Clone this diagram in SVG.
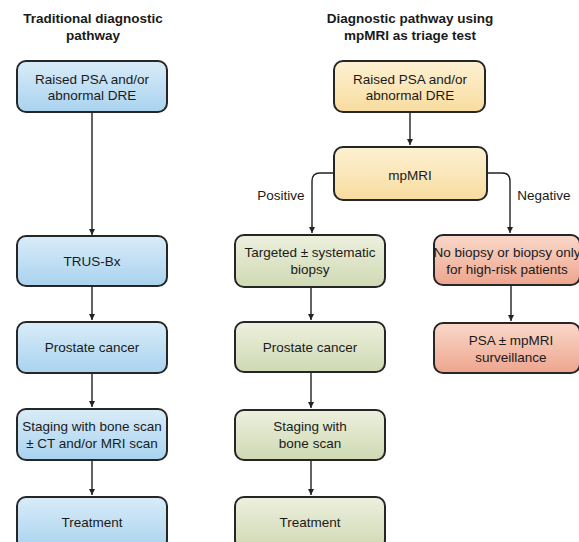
<svg xmlns="http://www.w3.org/2000/svg" width="579" height="542" viewBox="0 0 579 542">
<defs>
<linearGradient id="gB" x1="0" y1="0" x2="0" y2="1"><stop offset="0" stop-color="#d9ecf8"/><stop offset="1" stop-color="#a9d3ef"/></linearGradient>
<linearGradient id="gY" x1="0" y1="0" x2="0" y2="1"><stop offset="0" stop-color="#fdf1d3"/><stop offset="1" stop-color="#f8dc9f"/></linearGradient>
<linearGradient id="gG" x1="0" y1="0" x2="0" y2="1"><stop offset="0" stop-color="#edf0de"/><stop offset="1" stop-color="#cfd9b3"/></linearGradient>
<linearGradient id="gR" x1="0" y1="0" x2="0" y2="1"><stop offset="0" stop-color="#fad8c9"/><stop offset="1" stop-color="#eda58e"/></linearGradient>
<marker id="ah" viewBox="0 0 10 10" refX="10" refY="5" markerWidth="6" markerHeight="7" markerUnits="userSpaceOnUse" orient="auto"><path d="M0,0 L10,5 L0,10 z" fill="#222"/></marker>
</defs>
<style>
.box{stroke:#262626;stroke-width:2}
.t{font-family:"Liberation Sans",Arial,sans-serif;font-size:13.5px;fill:#1a1a1a;text-anchor:middle}
.h{font-family:"Liberation Sans",Arial,sans-serif;font-size:13.5px;font-weight:bold;fill:#1a1a1a;text-anchor:middle}
.c{fill:none;stroke:#222;stroke-width:1.4;marker-end:url(#ah)}
</style>
<rect width="579" height="542" fill="#fff"/>
<g id="title-left"><text class="h" x="93" y="23">Traditional diagnostic</text><text class="h" x="93" y="40">pathway</text></g>
<g id="title-right"><text class="h" x="410" y="23">Diagnostic pathway using</text><text class="h" x="410" y="40">mpMRI as triage test</text></g>

<g id="l1"><rect class="box" x="17" y="61" width="150" height="51" rx="9" fill="url(#gB)"/><text class="t" x="92" y="84">Raised PSA and/or</text><text class="t" x="92" y="100">abnormal DRE</text></g>
<g id="l2"><rect class="box" x="17" y="236" width="150" height="50" rx="9" fill="url(#gB)"/><text class="t" x="92" y="266">TRUS-Bx</text></g>
<g id="l3"><rect class="box" x="17" y="322" width="150" height="51" rx="9" fill="url(#gB)"/><text class="t" x="92" y="352">Prostate cancer</text></g>
<g id="l4"><rect class="box" x="17" y="409" width="150" height="51" rx="9" fill="url(#gB)"/><text class="t" x="92" y="431">Staging with bone scan</text><text class="t" x="92" y="448">± CT and/or MRI scan</text></g>
<g id="l5"><rect class="box" x="17" y="497" width="150" height="52" rx="9" fill="url(#gB)"/><text class="t" x="92" y="527">Treatment</text></g>

<g id="m1"><rect class="box" x="334" y="61" width="151" height="51" rx="9" fill="url(#gY)"/><text class="t" x="410" y="84">Raised PSA and/or</text><text class="t" x="410" y="100">abnormal DRE</text></g>
<g id="m2"><rect class="box" x="334" y="147" width="153" height="53" rx="9" fill="url(#gY)"/><text class="t" x="410" y="180">mpMRI</text></g>

<g id="g1"><rect class="box" x="235" y="235" width="150" height="52" rx="9" fill="url(#gG)"/><text class="t" x="310" y="257">Targeted ± systematic</text><text class="t" x="310" y="274">biopsy</text></g>
<g id="g2"><rect class="box" x="235" y="322" width="150" height="50" rx="9" fill="url(#gG)"/><text class="t" x="310" y="352">Prostate cancer</text></g>
<g id="g3"><rect class="box" x="235" y="410" width="150" height="50" rx="9" fill="url(#gG)"/><text class="t" x="310" y="431">Staging with</text><text class="t" x="310" y="448">bone scan</text></g>
<g id="g4"><rect class="box" x="235" y="497" width="150" height="52" rx="9" fill="url(#gG)"/><text class="t" x="310" y="527">Treatment</text></g>

<g id="r1"><rect class="box" x="434" y="235" width="146" height="50" rx="9" fill="url(#gR)"/><text class="t" x="507" y="257">No biopsy or biopsy only</text><text class="t" x="507" y="274">for high-risk patients</text></g>
<g id="r2"><rect class="box" x="434" y="323" width="146" height="50" rx="9" fill="url(#gR)"/><text class="t" x="511" y="345">PSA ± mpMRI</text><text class="t" x="511" y="362">surveillance</text></g>

<g id="connectors">
<path class="c" d="M92,113 V235"/>
<path class="c" d="M92,287 V320"/>
<path class="c" d="M92,374 V407"/>
<path class="c" d="M92,461 V495"/>
<path class="c" d="M410,113 V145"/>
<path class="c" d="M333,173 H320 Q312,173 312,181 V233"/>
<path class="c" d="M488,173 H502 Q510,173 510,181 V233"/>
<path class="c" d="M311,288 V320"/>
<path class="c" d="M311,373 V408"/>
<path class="c" d="M311,461 V495"/>
<path class="c" d="M511,286 V321"/>
<text class="t" x="281" y="200">Positive</text>
<text class="t" x="544" y="200">Negative</text>
</g>
</svg>
